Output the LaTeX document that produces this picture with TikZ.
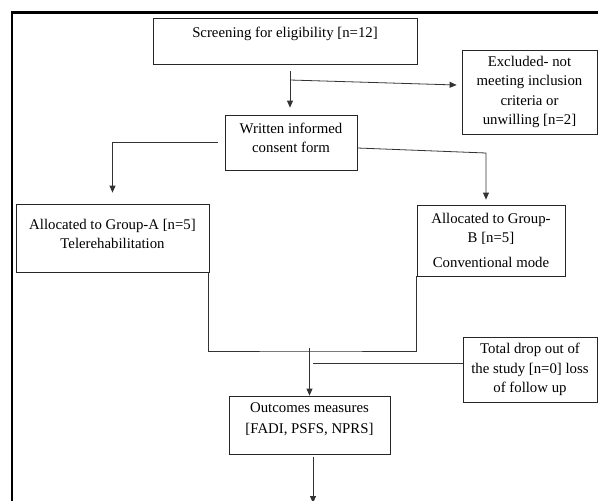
\documentclass[tikz,border=0pt]{standalone}
\usepackage{fontspec}
\setmainfont{Liberation Serif}
\usetikzlibrary{arrows.meta}
\newcommand{\padbelow}[1]{\rule[-#1]{0pt}{0pt}}
\tikzset{
  flowbox/.style={draw=black!85, line width=0.8pt, align=center, inner sep=2pt,
    font=\fontsize{14.8}{19.3}\selectfont},
  link/.style={draw=black!80, line width=0.8pt},
  arr/.style={link, -{Triangle[length=7pt,width=6pt]}},
}
\begin{document}
\begin{tikzpicture}[x=1pt,y=-1pt]
  \useasboundingbox (0,0) rectangle (598,501);
  % outer frame
  \draw[line width=2.2pt] (12,505) -- (12,12.5) -- (600,12.5);
  % boxes
  \node[flowbox, minimum width=264pt, minimum height=46pt] (screen) at (285,41) {Screening for eligibility [n=12]\padbelow{18pt}};
  \node[flowbox, minimum width=135pt, minimum height=84pt] (excl) at (529.5,92) {Excluded- not\\meeting inclusion\\criteria or\\unwilling [n=2]};
  \node[flowbox, minimum width=132pt, minimum height=55pt] (consent) at (291,142.5) {Written informed\\consent form\padbelow{10pt}};
  \node[flowbox, minimum width=193pt, minimum height=68pt] (grpA) at (112.5,238) {Allocated to Group-A [n=5]\\Telerehabilitation\padbelow{8pt}};
  \node[flowbox, minimum width=148pt, minimum height=71pt] (grpB) at (491,240.5) {Allocated to Group-\\B [n=5]\\[6pt]Conventional mode};
  \node[flowbox, minimum width=134pt, minimum height=65pt] (drop) at (530,369.5) {Total drop out of\\the study [n=0] loss\\of follow up};
  \node[flowbox, minimum width=161pt, minimum height=58pt] (outc) at (309.5,425) {Outcomes measures\\[2.5pt][FADI, PSFS, NPRS]\padbelow{14pt}};
  % connectors
  \coordinate (split) at (290,80);
  \draw[arr] ([xshift=5pt,yshift=-7pt]screen.south) -- ([xshift=-1pt,yshift=7pt]consent.north);
  \draw[arr] (split) -- ([xshift=-5pt,yshift=7pt]excl.west);
  \draw[arr] ([xshift=-7pt]consent.west) -| ([yshift=11pt]grpA.north);
  \coordinate (bendB) at (486,153);
  \draw[arr] ([yshift=-5.5pt]consent.east) -- (bendB) -- ([xshift=-5pt,yshift=5pt]grpB.north);
  \coordinate (join) at (309.5,351);
  \draw[link] ([xshift=-1pt]grpA.south east) |- (join) -| (grpB.south west);
  \draw[arr] ([yshift=3pt]join) -- (outc.north);
  \coordinate (dropend) at (313,363);
  \draw[link] ([yshift=6.5pt]drop.west) -- (dropend);
  \coordinate (tail) at (313,503);
  \draw[arr] ([xshift=3.5pt,yshift=-3pt]outc.south) -- (tail);
\end{tikzpicture}
\end{document}
